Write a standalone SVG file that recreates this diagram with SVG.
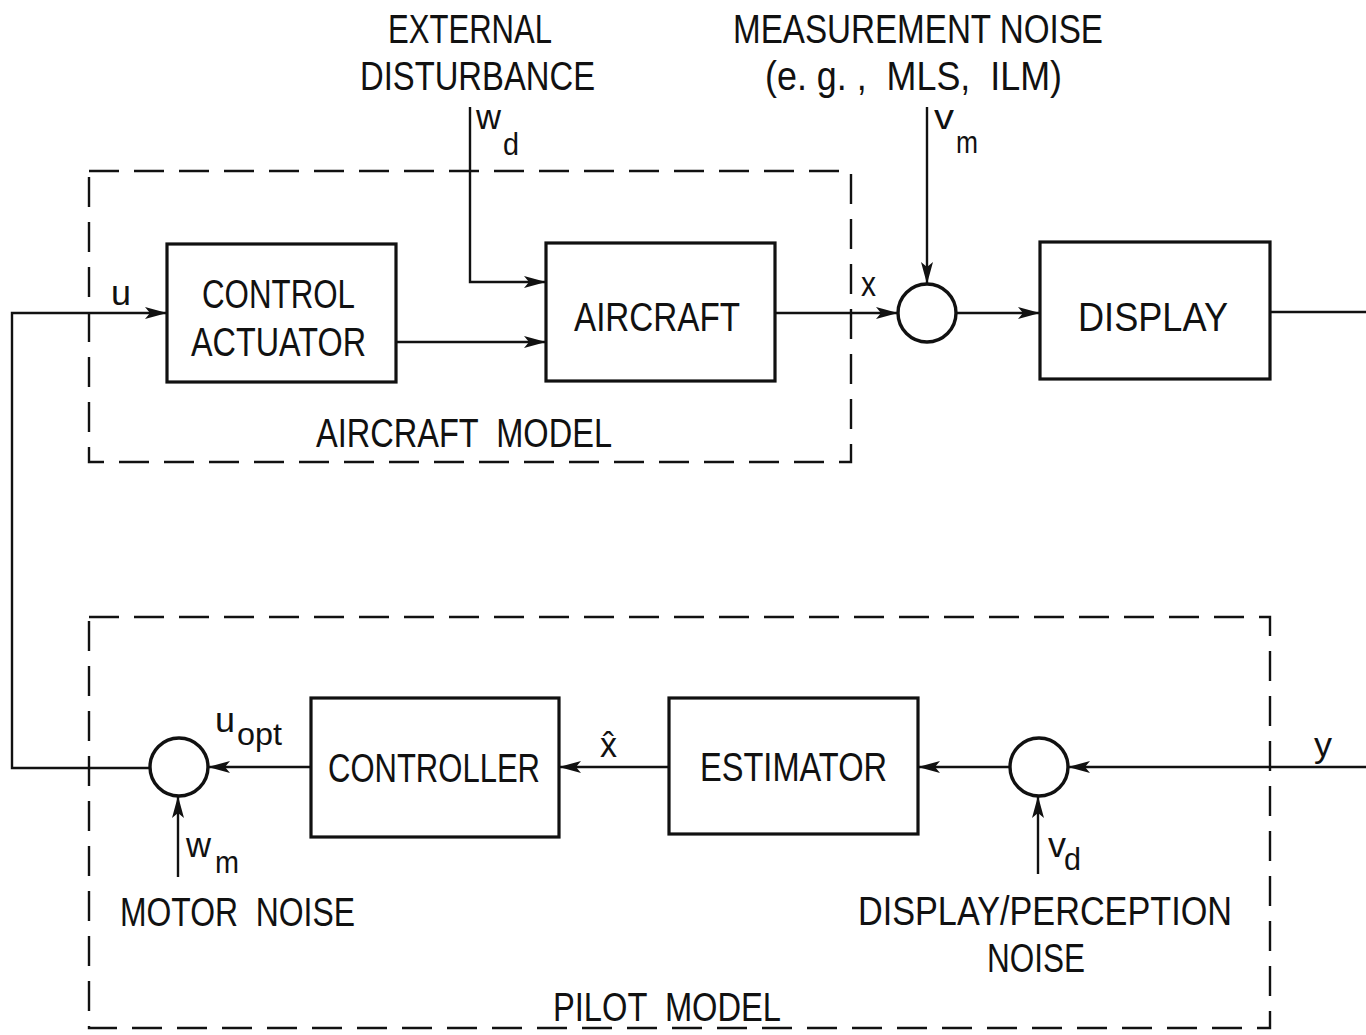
<svg xmlns="http://www.w3.org/2000/svg" width="1366" height="1035" viewBox="0 0 1366 1035">
<defs>
<style>
.bg{fill:#fff}
.box{fill:none;stroke:#111;stroke-width:3.2}
.dash{fill:none;stroke:#111;stroke-width:2.4;stroke-dasharray:30 15}
.sum{fill:#fff;stroke:#111;stroke-width:3.4}
.ln{fill:none;stroke:#111;stroke-width:2.4}
text{font-family:"Liberation Sans","DejaVu Sans",sans-serif;fill:#111}
.t{font-size:40px}
.v{font-size:35px}
.s{font-size:31px}
.pre{white-space:pre}
</style>
<marker id="ah" viewBox="0 0 22 12" refX="22" refY="6" markerWidth="22" markerHeight="12" markerUnits="userSpaceOnUse" orient="auto">
<path d="M0,0 L22,6 L0,12 L5,6 Z" fill="#111"/>
</marker>
</defs>
<rect class="bg" x="0" y="0" width="1366" height="1035"/>

<g id="aircraft-model-boundary">
<rect class="dash" x="89" y="171" width="762" height="291"/>
<text class="t pre" x="316" y="447" textLength="296" lengthAdjust="spacingAndGlyphs">AIRCRAFT  MODEL</text>
</g>
<g id="pilot-model-boundary">
<rect class="dash" x="89" y="617" width="1181" height="411"/>
<text class="t pre" x="553" y="1021" textLength="228" lengthAdjust="spacingAndGlyphs">PILOT  MODEL</text>
</g>

<g id="connectors">
<path class="ln" d="M470 107 V282 H546" marker-end="url(#ah)"/>
<path class="ln" d="M927 107 V284" marker-end="url(#ah)"/>
<path class="ln" d="M150 768 H12 V313 H167" marker-end="url(#ah)"/>
<path class="ln" d="M396 342 H546" marker-end="url(#ah)"/>
<path class="ln" d="M775 313 H898" marker-end="url(#ah)"/>
<path class="ln" d="M956 313 H1040" marker-end="url(#ah)"/>
<path class="ln" d="M1270 312 H1366"/>
<path class="ln" d="M1366 767 H1068" marker-end="url(#ah)"/>
<path class="ln" d="M1010 767 H918" marker-end="url(#ah)"/>
<path class="ln" d="M669 767 H559" marker-end="url(#ah)"/>
<path class="ln" d="M311 767 H208" marker-end="url(#ah)"/>
<path class="ln" d="M178 877 V796" marker-end="url(#ah)"/>
<path class="ln" d="M1038 874 V796" marker-end="url(#ah)"/>
</g>

<g id="external-disturbance">
<text class="t" x="388" y="43" textLength="164" lengthAdjust="spacingAndGlyphs">EXTERNAL</text>
<text class="t" x="360" y="90" textLength="235" lengthAdjust="spacingAndGlyphs">DISTURBANCE</text>
<text class="v" x="476" y="129" textLength="25" lengthAdjust="spacingAndGlyphs">w</text>
<text class="s" x="503" y="155" textLength="16" lengthAdjust="spacingAndGlyphs">d</text>
</g>
<g id="measurement-noise">
<text class="t" x="733" y="43" textLength="370" lengthAdjust="spacingAndGlyphs">MEASUREMENT NOISE</text>
<text class="t pre" x="765" y="90" textLength="297" lengthAdjust="spacingAndGlyphs">(e. g. ,  MLS,  ILM)</text>
<text class="v" x="934" y="129" textLength="20" lengthAdjust="spacingAndGlyphs">v</text>
<text class="s" x="956" y="153" textLength="22" lengthAdjust="spacingAndGlyphs">m</text>
</g>

<g id="control-actuator">
<rect class="box" x="167" y="244" width="229" height="138"/>
<text class="t" x="202" y="308" textLength="153" lengthAdjust="spacingAndGlyphs">CONTROL</text>
<text class="t" x="191" y="356" textLength="175" lengthAdjust="spacingAndGlyphs">ACTUATOR</text>
<text class="v" x="111" y="305" textLength="20" lengthAdjust="spacingAndGlyphs">u</text>
</g>
<g id="aircraft">
<rect class="box" x="546" y="243" width="229" height="138"/>
<text class="t" x="574" y="331" textLength="166" lengthAdjust="spacingAndGlyphs">AIRCRAFT</text>
<text class="v" x="861" y="296" textLength="15" lengthAdjust="spacingAndGlyphs">x</text>
</g>
<g id="sum-measurement">
<circle class="sum" cx="927" cy="313" r="29"/>
</g>
<g id="display">
<rect class="box" x="1040" y="242" width="230" height="137"/>
<text class="t" x="1078" y="331" textLength="150" lengthAdjust="spacingAndGlyphs">DISPLAY</text>
</g>

<g id="sum-perception">
<circle class="sum" cx="1039" cy="767" r="29"/>
<text class="v" x="1314" y="757" textLength="18" lengthAdjust="spacingAndGlyphs">y</text>
<text class="v" x="1048" y="857" textLength="18" lengthAdjust="spacingAndGlyphs">v</text>
<text class="s" x="1064" y="870" textLength="17" lengthAdjust="spacingAndGlyphs">d</text>
<text class="t" x="858" y="925" textLength="374" lengthAdjust="spacingAndGlyphs">DISPLAY/PERCEPTION</text>
<text class="t" x="987" y="972" textLength="98" lengthAdjust="spacingAndGlyphs">NOISE</text>
</g>
<g id="estimator">
<rect class="box" x="669" y="698" width="249" height="136"/>
<text class="t" x="700" y="781" textLength="187" lengthAdjust="spacingAndGlyphs">ESTIMATOR</text>
<text class="v" x="600" y="757" textLength="17" lengthAdjust="spacingAndGlyphs">x̂</text>
</g>
<g id="controller">
<rect class="box" x="311" y="698" width="248" height="139"/>
<text class="t" x="328" y="782" textLength="212" lengthAdjust="spacingAndGlyphs">CONTROLLER</text>
</g>
<g id="sum-motor">
<circle class="sum" cx="179" cy="767" r="29"/>
<text class="v" x="215" y="732" textLength="20" lengthAdjust="spacingAndGlyphs">u</text>
<text class="s" x="237" y="745" textLength="45" lengthAdjust="spacingAndGlyphs">opt</text>
<text class="v" x="186" y="857" textLength="25" lengthAdjust="spacingAndGlyphs">w</text>
<text class="s" x="215" y="873" textLength="24" lengthAdjust="spacingAndGlyphs">m</text>
<text class="t pre" x="120" y="926" textLength="235" lengthAdjust="spacingAndGlyphs">MOTOR  NOISE</text>
</g>
</svg>
